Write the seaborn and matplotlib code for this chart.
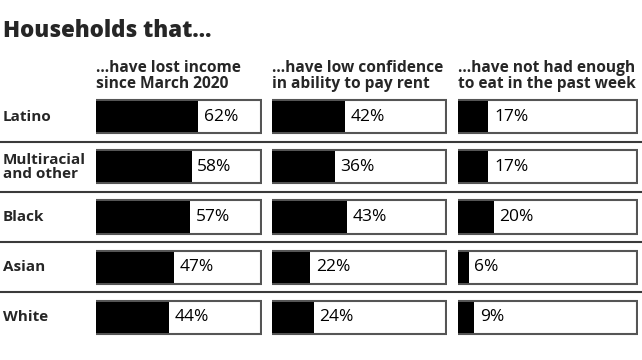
import numpy as np
import pandas as pd
import matplotlib.pyplot as plt
import seaborn as sns

# datos de la gráfica
grupos = ["Latino", "Multiracial\nand other", "Black", "Asian", "White"]
encabezados = ["...have lost income\nsince March 2020",
               "...have low confidence\nin ability to pay rent",
               "...have not had enough\nto eat in the past week"]
ingresos = [62, 58, 57, 47, 44]
renta = [42, 36, 43, 22, 24]
comida = [17, 17, 20, 6, 9]
total = [100, 100, 100, 100, 100]

sns.set_theme(style="white")
plt.rcParams["font.family"] = ["Open Sans", "DejaVu Sans"]

fig = plt.figure(figsize=(6.42, 3.6), dpi=100)

# posiciones de columnas en pixeles (izquierda, ancho)
columnas = [(96, 166), (272, 175), (458, 180)]
abajo = 1 - 342.5 / 360
alto = 251 / 360

# lineas separadoras a todo lo ancho
fondo = fig.add_axes([0, abajo, 1, alto])
fondo.set_ylim(len(grupos) - 0.5, -0.5)
fondo.set_xlim(0, 1)
for i in range(len(grupos) - 1):
    fondo.axhline(i + 0.5, color="#3a3a3a", lw=1.5)
fondo.axis("off")

for i, (serie, (x0, w)) in enumerate(zip([ingresos, renta, comida], columnas)):
    ax = fig.add_axes([x0 / 642, abajo, w / 642, alto])
    df = pd.DataFrame({"grupo": grupos, "valor": serie, "total": total})
    sns.barplot(data=df, x="total", y="grupo", color="white", edgecolor="#555555",
                linewidth=1.5, width=0.66, ax=ax, saturation=1)
    sns.barplot(data=df, x="valor", y="grupo", color="black", edgecolor="none",
                linewidth=0, width=0.62, ax=ax, saturation=1)
    ax.set_xlim(0, 100.5)
    ax.set_ylim(len(grupos) - 0.5, -0.5)
    for j, v in enumerate(serie):
        ax.annotate(f"{v}%", (v, j), xytext=(4, 0), textcoords="offset points",
                    va="center", ha="left", fontsize=12.5, color="black")
    ax.text(0, 1.0, encabezados[i], transform=ax.transAxes, ha="left", va="bottom",
            fontsize=11.2, fontweight="bold", linespacing=0.95)
    ax.set_xlabel("")
    ax.set_ylabel("")
    ax.set_xticks([])
    ax.set_yticks([])
    sns.despine(ax=ax, left=True, bottom=True)
    ax.patch.set_alpha(0)

for j, g in enumerate(grupos):
    fondo.text(3 / 642, j, g, ha="left", va="center", fontsize=11,
               fontweight="bold", linespacing=0.95)

fig.text(3 / 642, 1 - 37 / 360, "Households that...", ha="left", va="baseline",
         fontsize=16, fontweight="heavy")

fig.savefig("out.png", dpi=100)
